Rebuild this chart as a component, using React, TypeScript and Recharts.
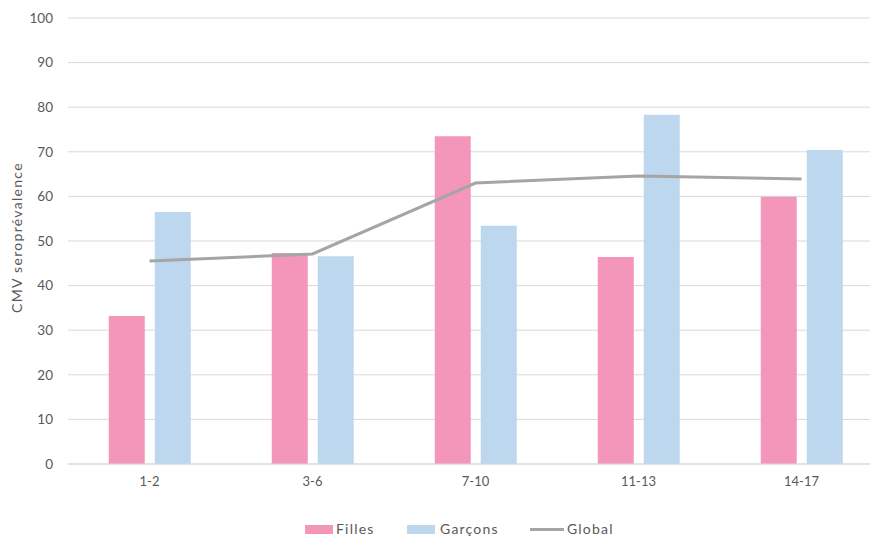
import {
  ComposedChart,
  Bar,
  Line,
  XAxis,
  YAxis,
  CartesianGrid,
  Legend,
} from 'recharts';

const categories = ['1-2', '3-6', '7-10', '11-13', '14-17'];
const filles = [33.2, 47.3, 73.5, 46.4, 59.9];
const garcons = [56.5, 46.6, 53.4, 78.3, 70.4];
const global = [45.5, 47.1, 63.0, 64.6, 63.9];
const yTicks = [0, 10, 20, 30, 40, 50, 60, 70, 80, 90, 100];

const COLORS = {
  filles: '#F496BA',
  garcons: '#BDD7EE',
  global: '#A5A5A5',
  text: '#595959',
  grid: '#D9D9D9',
};

const FONT = 'Lato, "Open Sans", sans-serif';

const data = categories.map((c, i) => ({
  cat: c,
  filles: filles[i],
  garcons: garcons[i],
  global: global[i],
}));

// legend like the Excel one: swatches for bars, a short line for Global
const LegendContent = () => (
  <div
    style={{
      position: 'relative',
      width: 330,
      height: 18,
      fontFamily: FONT,
      fontSize: 14,
      letterSpacing: 1.2,
      color: COLORS.text,
      lineHeight: '18px',
    }}
  >
    <span style={{ position: 'absolute', left: 0, top: 5, width: 28, height: 9, background: COLORS.filles }} />
    <span style={{ position: 'absolute', left: 31, top: 0 }}>Filles</span>
    <span style={{ position: 'absolute', left: 102, top: 5, width: 28, height: 9, background: COLORS.garcons }} />
    <span style={{ position: 'absolute', left: 135, top: 0 }}>Garçons</span>
    <span style={{ position: 'absolute', left: 225, top: 8, width: 34, height: 3, background: COLORS.global }} />
    <span style={{ position: 'absolute', left: 262, top: 0 }}>Global</span>
  </div>
);

export default function App() {
  return (
    <div
      style={{
        position: 'absolute',
        left: 0,
        top: 0,
        width: 870,
        height: 537,
        overflow: 'hidden',
        background: '#fff',
      }}
    >
      <ComposedChart
        width={885}
        height={537}
        data={data}
        margin={{ top: 18, right: 2, left: 0, bottom: 25 }}
        barCategoryGap="25%"
        barGap={10}
      >
        <CartesianGrid vertical={false} stroke={COLORS.grid} strokeWidth={1} />
        <XAxis
          dataKey="cat"
          height={30}
          tickLine={false}
          axisLine={{ stroke: COLORS.grid }}
          tickSize={0}
          tickMargin={13}
          tick={{ fill: COLORS.text, fontSize: 13, fontFamily: FONT }}
        />
        <YAxis
          width={68}
          domain={[0, 100]}
          ticks={yTicks}
          interval={0}
          tickLine={false}
          axisLine={false}
          tickSize={0}
          tickMargin={15}
          tick={{ fill: COLORS.text, fontSize: 13.5, fontFamily: FONT }}
          label={{
            value: 'CMV seroprévalence',
            angle: -90,
            position: 'insideLeft',
            dx: 12,
            dy: 72,
            style: { fill: COLORS.text, fontSize: 14, letterSpacing: 1.3, fontFamily: FONT },
          }}
        />
        <Legend
          content={<LegendContent />}
          wrapperStyle={{ position: 'absolute', left: 305, top: 520, width: 330, height: 18 }}
        />
        <Bar dataKey="filles" fill={COLORS.filles} isAnimationActive={false} />
        <Bar dataKey="garcons" fill={COLORS.garcons} isAnimationActive={false} />
        <Line
          dataKey="global"
          stroke={COLORS.global}
          strokeWidth={3}
          dot={false}
          activeDot={false}
          isAnimationActive={false}
        />
      </ComposedChart>
    </div>
  );
}
